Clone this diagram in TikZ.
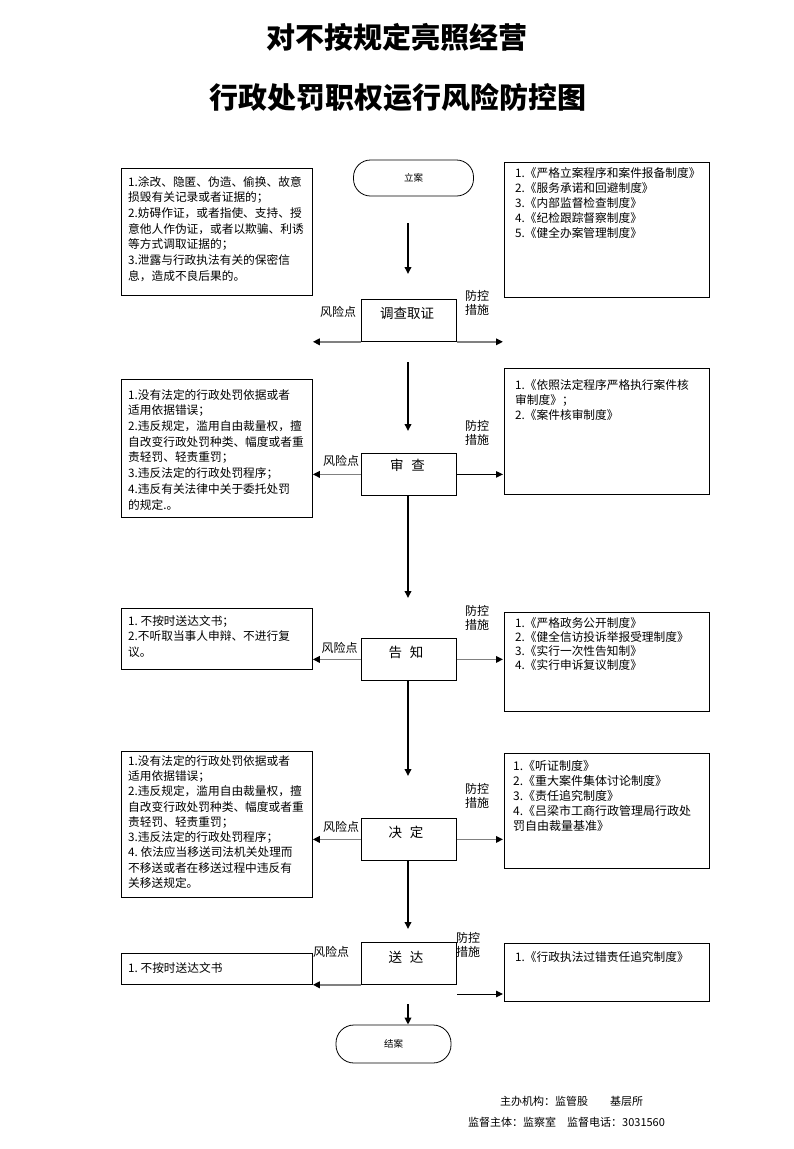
\documentclass[tikz,border=0pt]{standalone}
\usepackage{fontspec}
\setmainfont{Noto Sans CJK SC}
\usetikzlibrary{arrows.meta}
\begin{document}
\begin{tikzpicture}[x=1pt,y=-1pt,
  box/.style={draw,line width=0.8pt,inner sep=0pt,anchor=north west},
  midbox/.style={draw,line width=0.8pt,inner sep=0pt,minimum width=95,minimum height=42},
  oval/.style={draw,line width=0.8pt,inner sep=0pt,rounded corners=17,minimum width=120,minimum height=36,font=\fontsize{9.5}{10}\selectfont},
  ltxt/.style={inner sep=0pt,anchor=north west,align=left,font=\fontsize{11.7}{15.7}\selectfont},
  rtxt/.style={inner sep=0pt,anchor=north west,align=left,font=\fontsize{11.7}{15}\selectfont},
  midtxt/.style={inner sep=0pt,font=\fontsize{13.5}{14}\selectfont},
  risk/.style={inner sep=0pt,font=\fontsize{12}{14}\selectfont},
  ctrl/.style={inner sep=0pt,align=center,font=\fontsize{12}{14.5}\selectfont},
  varrow/.style={-{Triangle[length=7pt,width=6.5pt]},line width=1.8pt,black},
  larrow/.style={-{Triangle[length=7pt,width=6.5pt,color=black]},line width=1.8pt,draw=black!50},
  rarrow/.style={-{Triangle[length=7pt,width=6.5pt]},line width=1pt,black},
]
\useasboundingbox[fill=white] (0,0) rectangle (793,1149);

% titles
\node[inner sep=0pt,font=\fontsize{29}{30}\bfseries] (t1) at (397,37) {对不按规定亮照经营};
\node[inner sep=0pt,font=\fontsize{29}{30}\bfseries] (t2) at (397.5,97) {行政处罚职权运行风险防控图};

% ---------- row 1 ----------
\node[oval] (lian) at (413.5,178) {立案};
\node[box,minimum width=191,minimum height=127] (L1) at (121,168) {};
\node[ltxt] (L1t) at (128,176) {1.涂改、隐匿、伪造、偷换、故意\\损毁有关记录或者证据的；\\2.妨碍作证，或者指使、支持、授\\意他人作伪证，或者以欺骗、利诱\\等方式调取证据的；\\3.泄露与行政执法有关的保密信\\息，造成不良后果的。};
\node[box,minimum width=205,minimum height=135] (R1) at (504,162) {};
\node[rtxt] (R1t) at (515,167) {1.《严格立案程序和案件报备制度》\\2.《服务承诺和回避制度》\\3.《内部监督检查制度》\\4.《纪检跟踪督察制度》\\5.《健全办案管理制度》};
\node[midbox,anchor=north west] (dc) at (361,299) {};
\node[midtxt] (dct) at (407,313) {调查取证};
\node[risk] (rk1) at (338,312) {风险点};
\node[ctrl] (ct1) at (477,303) {防控\\措施};
\coordinate (a1s) at (408,223);
\coordinate (a1e) at (408,274);
\draw[varrow] (a1s) -- (a1e);
\draw[larrow] (dc.south west) -- (dc.south west -| L1.east);
\draw[larrow] (dc.south east) -- ([xshift=-1pt]dc.south east -| R1.west);

% ---------- row 2 ----------
\node[box,minimum width=191,minimum height=138] (L2) at (121,379) {};
\node[ltxt] (L2t) at (128,389) {1.没有法定的行政处罚依据或者\\适用依据错误；\\2.违反规定，滥用自由裁量权，擅\\自改变行政处罚种类、幅度或者重\\责轻罚、轻责重罚；\\3.违反法定的行政处罚程序；\\4.违反有关法律中关于委托处罚\\的规定.。};
\node[box,minimum width=205,minimum height=126] (R2) at (504,368) {};
\node[rtxt] (R2t) at (515,379) {1.《依照法定程序严格执行案件核\\审制度》；\\2.《案件核审制度》};
\node[midbox,anchor=north west] (sc) at (361,453) {};
\node[midtxt] (sct) at (407.5,465) {审\hspace{8pt}查};
\node[risk] (rk2) at (341,461) {风险点};
\node[ctrl] (ct2) at (477,433) {防控\\措施};
\coordinate (a2s) at (408,362);
\coordinate (a2e) at (408,431);
\draw[varrow] (a2s) -- (a2e);
\draw[larrow] (sc.west) -- (sc.west -| L2.east);
\draw[rarrow] (sc.east) -- ([xshift=-1pt]sc.east -| R2.west);

% ---------- row 3 ----------
\coordinate (a3e) at (408,598);
\draw[varrow] (sc.south -| a3e) -- (a3e);
\node[box,minimum width=191,minimum height=61] (L3) at (121,608) {};
\node[ltxt] (L3t) at (128,615) {1.\ 不按时送达文书；\\2.不听取当事人申辩、不进行复\\议。};
\node[box,minimum width=205,minimum height=99] (R3) at (504,612) {};
\node[rtxt,font=\fontsize{11.7}{14.2}\selectfont] (R3t) at (515,617) {1.《严格政务公开制度》\\2.《健全信访投诉举报受理制度》\\3.《实行一次性告知制》\\4.《实行申诉复议制度》};
\node[midbox,anchor=north west] (gz) at (361,638) {};
\node[midtxt] (gzt) at (406,652) {告\hspace{8pt}知};
\node[risk] (rk3) at (339.5,648) {风险点};
\node[ctrl] (ct3) at (477,618) {防控\\措施};
\draw[larrow] (gz.west) -- (gz.west -| L3.east);
\draw[larrow] (gz.east) -- ([xshift=-1pt]gz.east -| R3.west);

% ---------- row 4 ----------
\coordinate (a4e) at (408,776);
\draw[varrow] (gz.south -| a4e) -- (a4e);
\node[box,minimum width=191,minimum height=146] (L4) at (121,751) {};
\node[ltxt,font=\fontsize{11.7}{15.3}\selectfont] (L4t) at (128,755) {1.没有法定的行政处罚依据或者\\适用依据错误；\\2.违反规定，滥用自由裁量权，擅\\自改变行政处罚种类、幅度或者重\\责轻罚、轻责重罚；\\3.违反法定的行政处罚程序；\\4.\ 依法应当移送司法机关处理而\\不移送或者在移送过程中违反有\\关移送规定。};
\node[box,minimum width=205,minimum height=115] (R4) at (504,753) {};
\node[rtxt,font=\fontsize{12}{15}\selectfont] (R4t) at (513,760.5) {1.《听证制度》\\2.《重大案件集体讨论制度》\\3.《责任追究制度》\\4.《吕梁市工商行政管理局行政处\\罚自由裁量基准》};
\node[midbox,anchor=north west] (jd) at (361,818) {};
\node[midtxt] (jdt) at (406,832) {决\hspace{8pt}定};
\node[risk] (rk4) at (341,827) {风险点};
\node[ctrl] (ct4) at (477,796) {防控\\措施};
\draw[larrow] (jd.west) -- (jd.west -| L4.east);
\draw[larrow] (jd.east) -- ([xshift=-1pt]jd.east -| R4.west);

% ---------- row 5 ----------
\coordinate (a5e) at (408,929);
\draw[varrow] (jd.south -| a5e) -- (a5e);
\node[box,minimum width=191,minimum height=31] (L5) at (121,953) {};
\node[ltxt] (L5t) at (128,962) {1.\ 不按时送达文书};
\node[box,minimum width=205,minimum height=58] (R5) at (504,943) {};
\node[rtxt] (R5t) at (515,951) {1.《行政执法过错责任追究制度》};
\node[midbox,anchor=north west] (sd) at (361,942) {};
\node[midtxt] (sdt) at (406,957) {送\hspace{8pt}达};
\node[risk] (rk5) at (331,952) {风险点};
\node[ctrl] (ct5) at (468,945) {防控\\措施};
\draw[larrow] (sd.south west) -- (sd.south west -| L5.east);
\coordinate (a6s) at (457,994);
\draw[rarrow] (a6s) -- ([xshift=-1pt]a6s -| R5.west);

% ---------- end ----------
\node[oval,minimum width=115,minimum height=38,rounded corners=18] (ja) at (393.5,1044) {结案};
\coordinate (a7s) at (408,1004);
\draw[varrow] (a7s) -- (a7s |- ja.north);

% footer
\node[inner sep=0pt,anchor=west,font=\fontsize{11}{12}\selectfont] (f1) at (500,1101) {主办机构：监管股\hspace{22pt}基层所};
\node[inner sep=0pt,anchor=west,font=\fontsize{11}{12}\selectfont] (f2) at (468,1122) {监督主体：监察室\hspace{11pt}监督电话：3031560};
\end{tikzpicture}
\end{document}
